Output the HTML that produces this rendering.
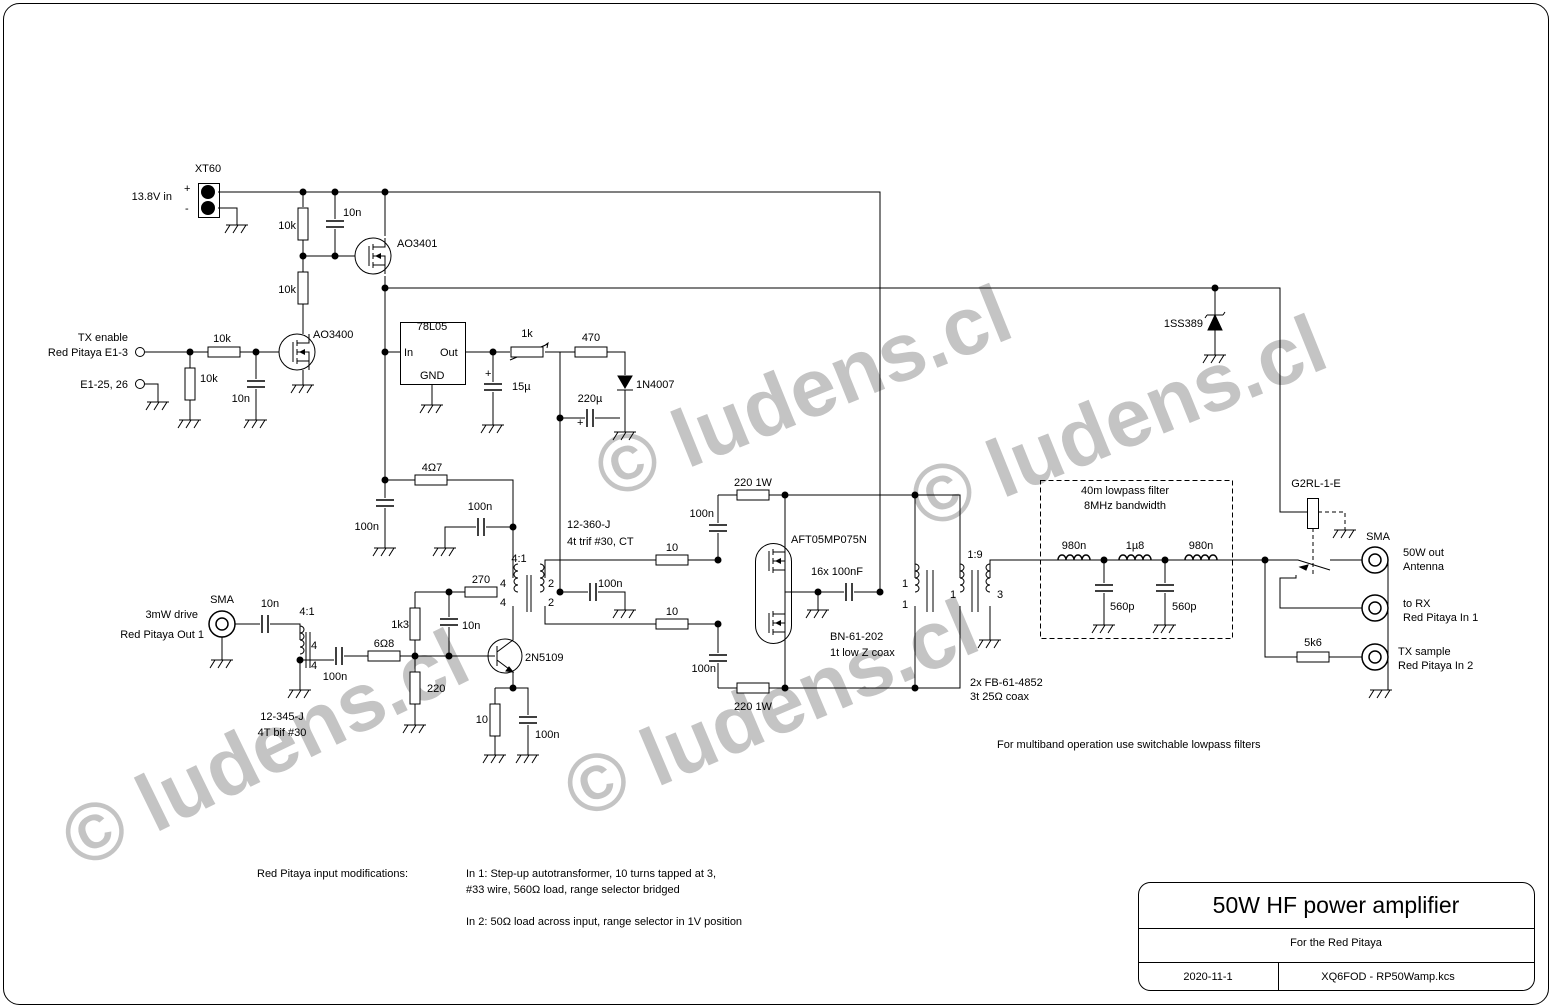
<!DOCTYPE html>
<html><head><meta charset="utf-8"><style>
body{margin:0;background:#fff}
svg{display:block}
text{font-family:"Liberation Sans",sans-serif;font-size:11px;fill:#000}
.wm{font-family:"Liberation Sans",sans-serif;font-weight:bold;font-size:82px;fill:#c4c4c4}
</style></head><body>
<svg width="1552" height="1008" viewBox="0 0 1552 1008" xmlns="http://www.w3.org/2000/svg">
<defs>
<g id="g"><path d="M-11 0H11M-7 0l-5 8M1 0l-5 8M9 0l-5 8" stroke="#000" fill="none"/></g>
<g id="d"><circle r="3.5" fill="#000"/></g>
<g id="rh"><rect x="-16" y="-5" width="32" height="10" fill="#fff" stroke="#000"/></g>
<g id="rv"><rect x="-5" y="-16" width="10" height="32" fill="#fff" stroke="#000"/></g>
<g id="cv"><rect x="-9" y="-5" width="18" height="10" fill="#fff"/><path d="M-9 -3H9M-9 3H9" stroke="#000" stroke-width="1.5"/></g>
<g id="ch"><rect x="-5" y="-9" width="10" height="18" fill="#fff"/><path d="M-3 -9V9M3 -9V9" stroke="#000" stroke-width="1.5"/></g>
<g id="sma"><circle r="13" fill="#fff" stroke="#000" stroke-width="1.5"/><circle r="6" fill="none" stroke="#000" stroke-width="1.5"/></g>
<g id="coil"><path d="M0 -14a4 3.5 0 0 1 0 7a4 3.5 0 0 1 0 7a4 3.5 0 0 1 0 7a4 3.5 0 0 1 0 7" fill="none" stroke="#000"/></g>
<g id="coilL"><path d="M0 -14a4 3.5 0 0 0 0 7a4 3.5 0 0 0 0 7a4 3.5 0 0 0 0 7a4 3.5 0 0 0 0 7" fill="none" stroke="#000"/></g>
<g id="lh"><path d="M-16 0a4 5 0 0 1 8 0a4 5 0 0 1 8 0a4 5 0 0 1 8 0a4 5 0 0 1 8 0" fill="none" stroke="#000" stroke-width="1.5"/></g>
<g id="fet"><path d="M-12 -10V10M-8 -12V-6M-8 -3V3M-8 6V12M-8 -9H4V-18M-8 9H4V18M-8 0H4V9" stroke="#000" fill="none"/><path d="M-6 0l6 -3v6z" fill="#000"/></g>
</defs>
<rect width="1552" height="1008" fill="#fff"/>
<!-- watermarks -->
<text class="wm" transform="translate(80,870) rotate(-26)">© ludens.cl</text>
<text class="wm" transform="translate(610,500) rotate(-22)">© ludens.cl</text>
<text class="wm" transform="translate(580,820) rotate(-23)">© ludens.cl</text>
<text class="wm" transform="translate(925,530) rotate(-22)">© ludens.cl</text>

<rect x="3.5" y="3.5" width="1545" height="1001" rx="16" fill="none" stroke="#000"/>
<g stroke="#000" fill="none">
<!-- title block -->
<rect x="1138.5" y="882.5" width="396" height="108" rx="12"/>
<path d="M1138.5 928.5H1534.5M1138.5 962.5H1534.5M1278.5 962.5V990.5"/>
<!-- power rail -->
<path d="M218 192H880V592"/>
<rect x="198.5" y="183.5" width="21" height="34"/>
<path d="M218 208H237V225"/>
<path d="M303 192V207M303 240V272M303 304V334M335 192V256M303 256H355M385 192V236M385 276V548"/>
<path d="M385 288H1280V512H1307M1215 288V355"/>
<circle cx="373" cy="256" r="18"/>
<circle cx="297" cy="352" r="18"/>
<path d="M303 370V385M145 352H279M145 384H158V402M190 352V420M256 352V420"/>
<!-- regulator -->
<rect x="400.5" y="322.5" width="65" height="62"/>
<path d="M385 352H400M432 384V405M465 352H510M493 352V425M545 352H592M607 352H625V375M625 390V432M560 352V592M560 418H620"/>
<path d="M510 360L548 344M544 346l4 -3l-1 5" />
<path d="M625 388L618 376H632Z" fill="#000"/><path d="M617 390H633"/>
<!-- 4.7 and driver -->
<path d="M385 480H513V578M445 548V527H513M513 606V640M545 578V560H718M545 606V624H718M560 592H625V610"/>
<path d="M415 592H497M415 592V608M415 640V725M449 592V656M340 656H495M513 672V688M495 688H528V755M495 688V755"/>
<circle cx="505" cy="656" r="17"/>
<path d="M497 646V666M497 652L513 640M497 660L513 672"/>
<path d="M513 672l-7 -1l3 -4z" fill="#000"/>
<!-- input -->
<path d="M235 624H300V640M222 637V660M300 660V690M300 660H340"/>
<!-- PA -->
<path d="M718 495V560M718 624V688M718 495H785M718 688H785M785 495H960V578M785 688H960V606M785 495V688M785 592H880M818 592V610M915 495V578M915 606V688"/>
<path d="M990 578V560H1265M990 606V640"/>
<rect x="755.5" y="543.5" width="36" height="100" rx="18"/>
<path d="M927 570V612M933 570V612M972 570V612M978 570V612"/>
<!-- lowpass -->
<rect x="1040.5" y="480.5" width="192" height="158" stroke-dasharray="5,3"/>
<path d="M1104 560V625M1165 560V625"/>
<!-- relay -->
<rect x="1307.5" y="498.5" width="11" height="30" fill="#fff"/>
<path d="M1318 512H1345V530M1313 528V575" stroke-dasharray="4,3"/>
<path d="M1265 560H1298L1330 570M1330 560H1362M1296 575V578H1280V608H1362M1265 560V657H1297M1329 657H1362M1388 560V690M1375 690H1388"/>
<path d="M1300 567l8 -2l-2 5z" fill="#000"/>
<!-- zener -->
<path d="M1215 315L1208 330H1222Z" fill="#000"/><path d="M1207 315H1223M1207 315l-2 3M1223 315l2 -3"/>
</g>
<!-- dots -->
<g>
<use href="#d" x="208" y="192"/><use href="#d" x="208" y="208"/>
<circle cx="208" cy="192" r="7" fill="#000"/><circle cx="208" cy="208" r="7" fill="#000"/>
<use href="#d" x="303" y="192"/><use href="#d" x="335" y="192"/><use href="#d" x="385" y="192"/>
<use href="#d" x="303" y="256"/><use href="#d" x="335" y="256"/><use href="#d" x="385" y="288"/>
<use href="#d" x="190" y="352"/><use href="#d" x="256" y="352"/><use href="#d" x="385" y="352"/>
<use href="#d" x="493" y="352"/><use href="#d" x="560" y="418"/><use href="#d" x="1215" y="288"/>
<use href="#d" x="385" y="480"/><use href="#d" x="513" y="527"/><use href="#d" x="560" y="592"/>
<use href="#d" x="449" y="592"/><use href="#d" x="415" y="656"/><use href="#d" x="449" y="656"/>
<use href="#d" x="513" y="688"/><use href="#d" x="300" y="660"/>
<use href="#d" x="718" y="560"/><use href="#d" x="718" y="624"/><use href="#d" x="785" y="495"/><use href="#d" x="785" y="688"/>
<use href="#d" x="818" y="592"/><use href="#d" x="880" y="592"/><use href="#d" x="915" y="495"/><use href="#d" x="915" y="688"/>
<use href="#d" x="1104" y="560"/><use href="#d" x="1165" y="560"/><use href="#d" x="1265" y="560"/>
</g>
<circle cx="140" cy="352" r="4.5" fill="#fff" stroke="#000"/>
<circle cx="140" cy="384" r="4.5" fill="#fff" stroke="#000"/>
<!-- fets -->
<use href="#fet" transform="translate(381,256)"/>
<use href="#fet" transform="translate(305,352)"/>
<use href="#fet" transform="translate(781,561)"/>
<use href="#fet" transform="translate(781,623)"/>
<!-- grounds -->
<use href="#g" x="237" y="225"/><use href="#g" x="303" y="385"/><use href="#g" x="158" y="402"/>
<use href="#g" x="190" y="420"/><use href="#g" x="256" y="420"/><use href="#g" x="432" y="405"/>
<use href="#g" x="493" y="425"/><use href="#g" x="625" y="432"/><use href="#g" x="385" y="548"/>
<use href="#g" x="445" y="548"/><use href="#g" x="625" y="610"/><use href="#g" x="222" y="660"/>
<use href="#g" x="300" y="690"/><use href="#g" x="415" y="725"/><use href="#g" x="495" y="755"/>
<use href="#g" x="528" y="755"/><use href="#g" x="818" y="610"/><use href="#g" x="990" y="640"/>
<use href="#g" x="1104" y="625"/><use href="#g" x="1165" y="625"/><use href="#g" x="1215" y="355"/>
<use href="#g" x="1345" y="530"/><use href="#g" x="1381" y="690"/>
<!-- resistors -->
<use href="#rv" x="303" y="224"/><use href="#rv" x="303" y="288"/><use href="#rh" x="224" y="352"/>
<use href="#rv" x="190" y="384"/><use href="#rh" x="527" y="352"/><use href="#rh" x="591" y="352"/>
<use href="#rh" x="431" y="480"/><use href="#rh" x="481" y="592"/><use href="#rv" x="415" y="624"/>
<use href="#rh" x="384" y="656"/><use href="#rv" x="415" y="688"/><use href="#rv" x="495" y="720"/>
<use href="#rh" x="672" y="560"/><use href="#rh" x="672" y="624"/><use href="#rh" x="753" y="495"/>
<use href="#rh" x="753" y="688"/><use href="#rh" x="1313" y="657"/>
<!-- caps -->
<use href="#cv" x="335" y="224"/><use href="#cv" x="256" y="384"/><use href="#cv" x="493" y="387"/>
<use href="#ch" x="590" y="418"/><use href="#cv" x="385" y="503"/><use href="#ch" x="481" y="527"/>
<use href="#ch" x="593" y="592"/><use href="#cv" x="449" y="622"/><use href="#ch" x="265" y="624"/>
<use href="#ch" x="339" y="656"/><use href="#cv" x="528" y="720"/><use href="#cv" x="718" y="528"/>
<use href="#cv" x="718" y="658"/><use href="#ch" x="849" y="592"/><use href="#cv" x="1104" y="588"/>
<use href="#cv" x="1165" y="588"/>
<!-- coils -->
<use href="#coilL" x="518" y="578"/><use href="#coil" x="540" y="578"/>
<use href="#coil" x="915" y="578"/><use href="#coil" x="960" y="578"/><use href="#coilL" x="990" y="578"/>
<use href="#coil" x="300" y="640"/>
<path d="M306 632V668M310 632V668M527 575V612M531 575V612" stroke="#000"/>
<use href="#lh" x="1074" y="560"/><use href="#lh" x="1135" y="560"/><use href="#lh" x="1201" y="560"/>
<!-- sma -->
<use href="#sma" x="222" y="624"/><use href="#sma" x="1375" y="560"/><use href="#sma" x="1375" y="608"/><use href="#sma" x="1375" y="657"/>
<!-- labels -->
<text x="208" y="172" text-anchor="middle">XT60</text>
<text x="184" y="192">+</text><text x="185" y="212">-</text>
<text x="172" y="200" text-anchor="end">13.8V in</text>
<text x="296" y="229" text-anchor="end">10k</text><text x="343" y="216">10n</text>
<text x="397" y="247">AO3401</text>
<text x="296" y="293" text-anchor="end">10k</text>
<text x="313" y="338">AO3400</text>
<text x="222" y="342" text-anchor="middle">10k</text>
<text x="200" y="382">10k</text><text x="250" y="402" text-anchor="end">10n</text>
<text x="128" y="341" text-anchor="end">TX enable</text>
<text x="128" y="356" text-anchor="end">Red Pitaya E1-3</text>
<text x="128" y="388" text-anchor="end">E1-25, 26</text>
<text x="432" y="330" text-anchor="middle">78L05</text>
<text x="404" y="356">In</text><text x="440" y="356">Out</text><text x="420" y="379">GND</text>
<text x="527" y="337" text-anchor="middle">1k</text><text x="591" y="341" text-anchor="middle">470</text>
<text x="485" y="377">+</text><text x="512" y="390">15µ</text>
<text x="636" y="388">1N4007</text>
<text x="590" y="402" text-anchor="middle">220µ</text><text x="577" y="426">+</text>
<text x="432" y="471" text-anchor="middle">4Ω7</text>
<text x="379" y="530" text-anchor="end">100n</text>
<text x="480" y="510" text-anchor="middle">100n</text>
<text x="519" y="562" text-anchor="middle">4:1</text>
<text x="500" y="587">4</text><text x="500" y="606">4</text>
<text x="548" y="587">2</text><text x="548" y="606">2</text>
<text x="567" y="528">12-360-J</text><text x="567" y="545">4t trif #30, CT</text>
<text x="598" y="587">100n</text>
<text x="481" y="583" text-anchor="middle">270</text>
<text x="409" y="628" text-anchor="end">1k3</text><text x="462" y="629">10n</text>
<text x="384" y="647" text-anchor="middle">6Ω8</text>
<text x="427" y="692">220</text>
<text x="525" y="661">2N5109</text>
<text x="488" y="723" text-anchor="end">10</text><text x="535" y="738">100n</text>
<text x="222" y="603" text-anchor="middle">SMA</text>
<text x="198" y="618" text-anchor="end">3mW drive</text>
<text x="204" y="638" text-anchor="end">Red Pitaya Out 1</text>
<text x="270" y="607" text-anchor="middle">10n</text><text x="307" y="615" text-anchor="middle">4:1</text>
<text x="311" y="649">4</text><text x="311" y="669">4</text>
<text x="335" y="680" text-anchor="middle">100n</text>
<text x="282" y="720" text-anchor="middle">12-345-J</text><text x="282" y="736" text-anchor="middle">4T bif #30</text>
<text x="672" y="551" text-anchor="middle">10</text><text x="672" y="615" text-anchor="middle">10</text>
<text x="753" y="486" text-anchor="middle">220 1W</text><text x="753" y="710" text-anchor="middle">220 1W</text>
<text x="714" y="517" text-anchor="end">100n</text><text x="716" y="672" text-anchor="end">100n</text>
<text x="791" y="543">AFT05MP075N</text>
<text x="811" y="575">16x 100nF</text>
<text x="830" y="640">BN-61-202</text><text x="830" y="656">1t low Z coax</text>
<text x="902" y="587">1</text><text x="902" y="608">1</text>
<text x="950" y="598">1</text><text x="997" y="598">3</text>
<text x="975" y="558" text-anchor="middle">1:9</text>
<text x="970" y="686">2x FB-61-4852</text><text x="970" y="700">3t 25Ω coax</text>
<text x="1125" y="494" text-anchor="middle">40m lowpass filter</text>
<text x="1125" y="509" text-anchor="middle">8MHz bandwidth</text>
<text x="1074" y="549" text-anchor="middle">980n</text><text x="1135" y="549" text-anchor="middle">1µ8</text><text x="1201" y="549" text-anchor="middle">980n</text>
<text x="1110" y="610">560p</text><text x="1172" y="610">560p</text>
<text x="1203" y="327" text-anchor="end">1SS389</text>
<text x="1316" y="487" text-anchor="middle">G2RL-1-E</text>
<text x="1378" y="540" text-anchor="middle">SMA</text>
<text x="1403" y="556">50W out</text><text x="1403" y="570">Antenna</text>
<text x="1403" y="607">to RX</text><text x="1403" y="621">Red Pitaya In 1</text>
<text x="1313" y="646" text-anchor="middle">5k6</text>
<text x="1398" y="655">TX sample</text><text x="1398" y="669">Red Pitaya In 2</text>
<text x="997" y="748">For multiband operation use switchable lowpass filters</text>
<text x="257" y="877">Red Pitaya input modifications:</text>
<text x="466" y="877">In 1: Step-up autotransformer, 10 turns tapped at 3,</text>
<text x="466" y="893">#33 wire, 560Ω load, range selector bridged</text>
<text x="466" y="925">In 2: 50Ω load across input, range selector in 1V position</text>
<text x="1336" y="913" text-anchor="middle" style="font-size:23px">50W HF power amplifier</text>
<text x="1336" y="946" text-anchor="middle">For the Red Pitaya</text>
<text x="1208" y="980" text-anchor="middle">2020-11-1</text>
<text x="1388" y="980" text-anchor="middle">XQ6FOD - RP50Wamp.kcs</text>
</svg>
</body></html>
